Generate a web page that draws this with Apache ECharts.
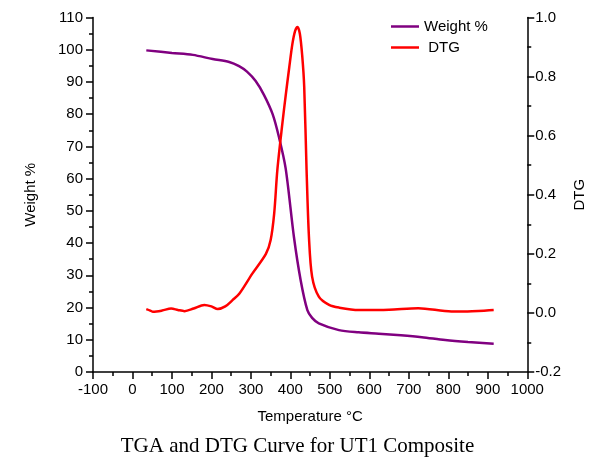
<!DOCTYPE html>
<html><head><meta charset="utf-8">
<script src="https://cdn.jsdelivr.net/npm/echarts@6/dist/echarts.min.js"></script>
<style>html,body{margin:0;padding:0;background:#fff}#c{width:595px;height:457px}</style>
</head><body><div id="c"></div>
<script>
var weightTemps = [35, 100, 153, 203, 245, 270, 290, 312, 333, 355, 371, 388, 409, 426, 443, 455, 472, 523, 573, 624, 680, 733, 792, 850, 915];
var weightVals  = [99.8, 99.0, 98.4, 97.1, 96.2, 94.9, 93.2, 90.3, 86.0, 80.0, 72.9, 63.2, 41.9, 28.5, 19.2, 16.8, 15.1, 13.0, 12.3, 11.9, 11.4, 10.8, 9.9, 9.3, 8.8];
var dtgTemps = [35, 45, 52, 75, 98, 115, 132, 155, 182, 200, 216, 235, 254, 271, 304, 338, 350, 359, 367, 380, 388, 397, 405, 412, 418, 424, 430, 435, 441, 447, 455, 472, 498, 523, 573, 650, 724, 808, 860, 915];
var dtgVals  = [0.013, 0.008, 0.004, 0.008, 0.015, 0.010, 0.006, 0.015, 0.027, 0.022, 0.013, 0.022, 0.044, 0.066, 0.134, 0.20, 0.247, 0.337, 0.484, 0.645, 0.735, 0.83, 0.91, 0.955, 0.968, 0.945, 0.87, 0.766, 0.484, 0.258, 0.123, 0.055, 0.027, 0.018, 0.010, 0.011, 0.016, 0.005, 0.006, 0.010];
var titleText = 'TGA and DTG Curve for UT1 Composite';

function pairs(xs, ys){ return xs.map(function(x,i){ return [x, ys[i]]; }); }
var chart = echarts.init(document.getElementById('c'));
var font = 'Liberation Sans, Arial, sans-serif';
var axisCommon = {
  axisLine: {show: true, onZero: false, lineStyle: {color: '#000', width: 1.5}},
  axisTick: {show: true, inside: false, length: 7, lineStyle: {color: '#000', width: 1.5}},
  minorTick: {show: true, splitNumber: 2, length: 4, lineStyle: {color: '#000', width: 1.5}},
  splitLine: {show: false},
  axisLabel: {color: '#000', fontFamily: font, fontSize: 15},
  nameTextStyle: {color: '#000', fontFamily: font, fontSize: 15}
};
function ax(extra){ return echarts.util.merge(echarts.util.clone(axisCommon), extra, true); }
chart.setOption({
  animation: false,
  title: {text: titleText, left: 'center', top: 431, textStyle: {fontFamily: 'Liberation Serif, Times New Roman, serif', fontWeight: 'normal', fontSize: 21, color: '#000'}},
  legend: {orient: 'vertical', left: 386, top: 14, itemWidth: 28, itemHeight: 10, itemGap: 6,
    icon: 'path://M0,4 L28,4 L28,6.5 L0,6.5 Z',
    textStyle: {fontFamily: font, fontSize: 15, color: '#000'},
    formatter: function(n){ return n === 'DTG' ? ' DTG' : n; },
    data: ['Weight %', 'DTG']},
  grid: {left: 93, right: 66, top: 17.5, bottom: 85},
  xAxis: ax({type: 'value', min: -100, max: 1000, interval: 100, name: 'Temperature °C', nameLocation: 'middle', nameGap: 37,
    axisLabel: {margin: 10, formatter: function(v){ return String(v); }}}),
  yAxis: [
    ax({type: 'value', position: 'left', min: 0, max: 110, interval: 10, name: 'Weight %', nameLocation: 'middle', nameGap: 55, nameRotate: 90,
      axisLabel: {margin: 10}}),
    ax({type: 'value', position: 'right', min: -0.2, max: 1.0, interval: 0.2, name: 'DTG', nameLocation: 'middle', nameGap: 40, nameRotate: 90,
      axisLabel: {margin: 8, formatter: function(v){ return v.toFixed(1); }}})
  ],
  series: [
    {name: 'Weight %', type: 'line', yAxisIndex: 0, showSymbol: false, smooth: 0.3, data: pairs(weightTemps, weightVals),
      lineStyle: {color: '#800080', width: 2.5}, itemStyle: {color: '#800080'}},
    {name: 'DTG', type: 'line', yAxisIndex: 1, showSymbol: false, smooth: 0.3, data: pairs(dtgTemps, dtgVals),
      lineStyle: {color: '#ff0000', width: 2.5}, itemStyle: {color: '#ff0000'}}
  ]
});
</script></body></html>
